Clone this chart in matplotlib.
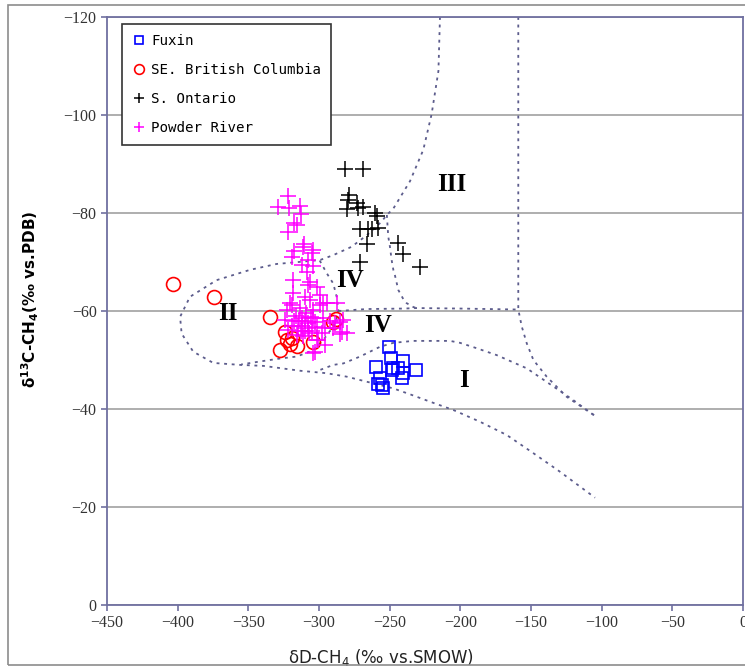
import matplotlib.pyplot as plt
from matplotlib.patches import Rectangle
import numpy as np

plt.rcParams['mathtext.default'] = 'regular'

# data (dD, d13C)
fuxin_x = [-250.3, -249, -259.7, -240.3, -231.4, -247.4, -240.3, -256.8, -255.6, -258.0, -254.5, -248.6, -243.8, -241.5]
fuxin_y = [-52.6, -50.5, -48.6, -49.7, -48.0, -48.3, -47.3, -46.3, -44.9, -45.2, -44.2, -48.0, -48.3, -46.3]

bc_x = [-403.3, -374.3, -334.7, -327.6, -324.1, -322.9, -320.5, -315.8, -304, -289.9, -288, -319]
bc_y = [-65.5, -62.9, -58.7, -52.0, -55.8, -54.1, -53.3, -52.9, -53.7, -57.8, -58.3, -54.5]

ont_x = [-281.6, -269.1, -278.6, -279.3, -273.3, -280.4, -272.2, -268.6, -260.4, -259.2,
         -271, -265.1, -262.7, -258.0, -266.3, -243.9, -240.3, -228.5, -271]
ont_y = [-89, -89, -83.7, -82.7, -82, -80.8, -81, -81.2, -80, -79.3,
         -76.7, -76.7, -76.7, -76.9, -73.7, -73.9, -71.6, -68.9, -69.9]

pr_x = [-321.7, -329.2, -321, -313.4, -312.7, -317.5, -315.8, -322.1, -310.4, -317.5,
        -304, -319.3, -307.5, -312.2, -304, -311.1, -305.2, -308.7, -318.2, -306.4,
        -301.7, -307.5, -318.2, -309.9, -306.4, -299.3, -294.5, -299.3, -320.5, -322.9,
        -313.4, -304, -319.3, -287.5, -297, -285.1, -282.8, -285.1, -297, -301.7,
        -304, -301.7, -324.1, -288.7, -295.7, -284, -300.5, -302.8, -315.8, -321.7,
        -318, -315, -312, -310, -308, -306, -313, -316, -309, -305,
        -311, -314, -307, -303, -319, -310, -312, -308, -304, -298,
        -292, -290, -296, -280]
pr_y = [-83.5, -81.2, -81, -81.4, -79.7, -77.9, -77.6, -76.1, -73.6, -72.2,
        -72.4, -71.1, -70.4, -69.4, -69.2, -73.1, -71.8, -68, -66.3, -66,
        -65, -65.3, -63.6, -62.9, -62.2, -63.3, -61.6, -61.2, -61.6, -60.2,
        -60.6, -60.2, -61.2, -61.6, -61.6, -57.8, -58.2, -55.4, -58.5, -56.8,
        -51.4, -54.1, -58.2, -57.5, -56.5, -55.8, -54.1, -51.7, -55.1, -56.1,
        -58, -57, -58.5, -56, -57.5, -58.8, -56, -59, -59.5, -56,
        -55, -58, -55.5, -57.8, -57, -58, -57, -56.5, -58.5, -55.5,
        -58, -56.5, -53, -55.5]

# boundary curves of the genetic fields
bA_x = [-214.4, -215.5, -220.3, -226.2, -235.6, -247.4, -252, -256.2, -266, -277, -289.9, -299.3,
        -318.2, -330, -348.8, -372.4, -391.3, -398.3, -397.2, -389, -374.8, -355.8, -339.3,
        -313.2, -294.5, -280.4, -263.9, -247.4, -235.6, -221.5, -205, -186.1, -167.2, -148.4,
        -129.5, -104.7]
bA_y = [-120, -109, -100.2, -92.9, -86.5, -80.9, -79.6, -78.1, -75.5, -73.1, -71.4, -70.4,
        -69.9, -69.6, -68.4, -66.3, -62.9, -58.8, -55.4, -51.7, -49.4, -49, -48.8,
        -47.8, -47.3, -46.6, -45.4, -44.2, -43, -41.5, -39.8, -37.4, -34.7, -31,
        -27.2, -21.9]
bB_x = [-299.5, -294.5, -289.9, -287.5, -286.3, -287.5, -289.9, -297, -304, -315.8, -327.6, -341.7, -355]
bB_y = [-70.3, -67.7, -65.6, -62.9, -60.2, -58.5, -56.8, -54.1, -52, -50.7, -50.3, -49.7, -49.1]
bC_x = [-286.3, -266.2, -240, -231, -200, -159]
bC_y = [-60.0, -60.4, -60.5, -60.6, -60.5, -60.3]
bD_x = [-252, -251, -249.8, -248.6, -247.4, -246.2, -243.9, -240.3, -238, -233.2, -231]
bD_y = [-79.6, -75.2, -73.1, -70.4, -68.4, -67.2, -64.3, -62.4, -61.6, -60.8, -60.6]
bE_x = [-159, -159, -156.5, -153, -148.3, -138.9, -124.8, -104.7]
bE_y = [-120, -60.3, -56.8, -53.4, -50, -46.6, -42.5, -38.6]
bF_x = [-299, -289.9, -282.8, -271, -256.8, -247.4, -233.3, -207.3, -200.2, -188.4, -174.3,
        -153, -134.2, -120, -110.6, -104.7]
bF_y = [-48, -49, -49.3, -50.7, -52.7, -53.5, -53.9, -53.9, -53.5, -52.4, -51.0,
        -48.3, -44.6, -41.8, -39.8, -38.6]

zone_labels = ['I', 'II', 'III', 'IV', 'IV']
zone_x = [-197.4, -364.4, -205.9, -278, -258.3]
zone_y = [-45.9, -59.4, -85.9, -66.3, -57.1]

fig = plt.figure(figsize=(7.45, 6.7), dpi=100)
ax = fig.add_axes([107 / 745, 1 - 605 / 670, 636 / 745, 588 / 670])
fig.patches.append(Rectangle((8 / 745, 5 / 670), 1.0, 660 / 670, transform=fig.transFigure,
                             fill=False, edgecolor='#8c8c8c', lw=1.2, zorder=0))

frame_col = '#7070a0'
bcol = '#5c5c8c'
for bx, by in [(bA_x, bA_y), (bB_x, bB_y), (bC_x, bC_y), (bD_x, bD_y), (bE_x, bE_y), (bF_x, bF_y)]:
    ax.plot(bx, by, color=bcol, lw=1.3, linestyle=(0, (1.6, 2.6)), zorder=2)

ax.plot(fuxin_x, fuxin_y, 's', ms=9, mfc='none', mec='#0000ff', mew=1.2, label='Fuxin', zorder=3)
ax.plot(bc_x, bc_y, 'o', ms=10, mfc='none', mec='#ff0000', mew=1.2, label='SE. British Columbia', zorder=3)
ax.plot(ont_x, ont_y, '+', ms=11, color='black', mew=1.1, label='S. Ontario', zorder=3)
ax.plot(pr_x, pr_y, '+', ms=11, color='#ff00ff', mew=1.1, label='Powder River', zorder=4)

for t, x, y in zip(zone_labels, zone_x, zone_y):
    ax.text(x, y, t, fontsize=18, fontweight='bold', family='Liberation Serif',
            ha='center', va='center', zorder=5)

ax.set_xlim(-450, 0)
ax.set_ylim(0, -120)
ax.set_xticks(np.arange(-450, 1, 50))
ax.set_yticks(np.arange(-120, 1, 20))
ax.yaxis.grid(True, color='#a8a8a8', lw=1.3)
ax.set_axisbelow(True)
for s in ax.spines.values():
    s.set_color(frame_col)
    s.set_linewidth(1.3)
ax.tick_params(colors=frame_col, length=4, width=1.2, direction='out', labelcolor='#333333')
for lab in ax.get_xticklabels() + ax.get_yticklabels():
    lab.set_family('Liberation Serif')
    lab.set_fontsize(11.5)

ax.set_xlabel('δD-CH$_4$ (‰ vs.SMOW)', fontsize=12, color='#222222', family='DejaVu Sans')
ax.xaxis.set_label_coords(0.43, -0.072)
ax.set_ylabel('δ$^{13}$C-CH$_4$(‰ vs.PDB)', fontsize=11, fontweight='bold', family='DejaVu Sans')
ax.yaxis.set_label_coords(-0.104, 0.52)

leg = ax.legend(loc='upper left', bbox_to_anchor=(0.024, 0.988), borderaxespad=0,
                prop={'family': 'DejaVu Sans Mono', 'size': 10.2},
                fancybox=False, framealpha=1, edgecolor='#333333', labelspacing=1.05,
                handlelength=1.0, handletextpad=0.35, borderpad=0.7, markerscale=0.7)
leg.get_frame().set_linewidth(1.2)

plt.savefig('out.png', dpi=100)
